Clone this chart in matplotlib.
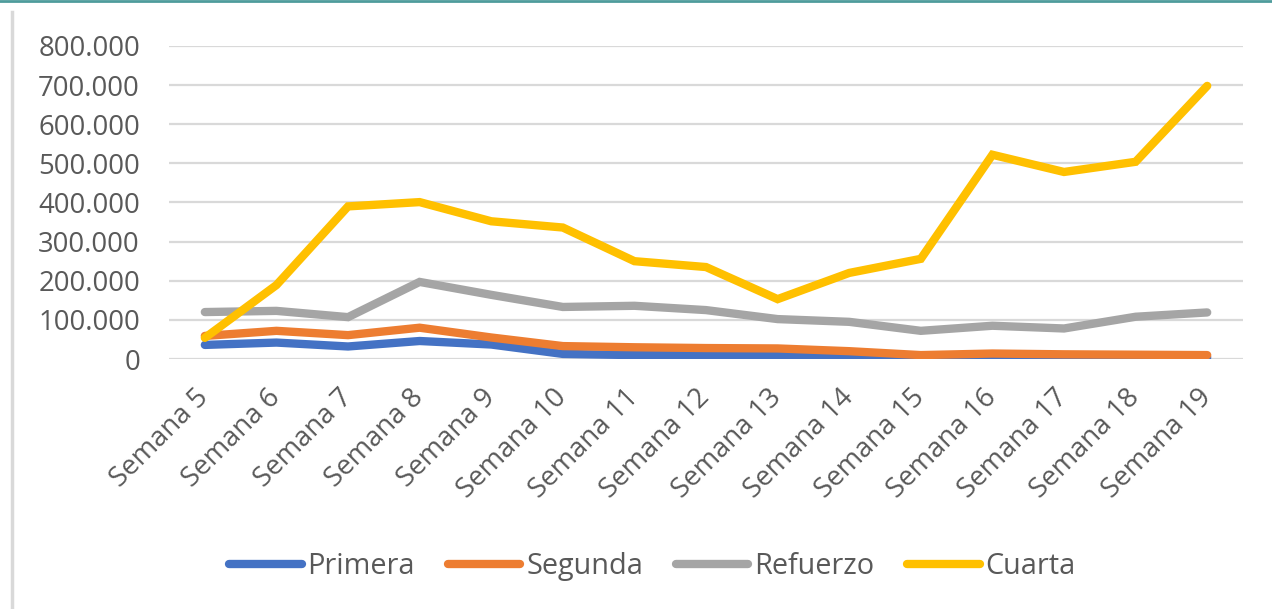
import matplotlib.pyplot as plt
from matplotlib.ticker import FuncFormatter
from matplotlib.lines import Line2D

semanas = ['Semana %d' % i for i in range(5, 20)]
primera = [36000, 42000, 32000, 46000, 37000, 13000, 10000, 10000, 10000, 6000, 3000, 3000, 4000, 4000, 4000]
segunda = [59000, 72000, 61000, 80000, 55000, 33000, 30000, 28000, 27000, 20000, 10000, 14000, 12000, 11000, 10000]
refuerzo = [120000, 123000, 107000, 197000, 164000, 133000, 136000, 125000, 102000, 95000, 72000, 85000, 78000, 108000, 119000]
cuarta = [54000, 189000, 390000, 401000, 352000, 336000, 250000, 235000, 153000, 220000, 256000, 522000, 478000, 504000, 698000]

plt.rcParams['font.family'] = ['Open Sans', 'DejaVu Sans']
txt = '#595959'

fig = plt.figure(figsize=(12.72, 6.09), dpi=100)
ax = fig.add_axes([0.1329, 0.4105, 0.8443, 0.514])

x = range(len(semanas))
series = [('Primera', primera, '#4472c4'),
          ('Segunda', segunda, '#ed7d31'),
          ('Refuerzo', refuerzo, '#a5a5a5'),
          ('Cuarta', cuarta, '#ffc000')]
for name, vals, col in series:
    ax.plot(x, vals, color=col, lw=6, solid_capstyle='round',
            solid_joinstyle='miter', label=name, zorder=3)

ax.set_xlim(-0.5, len(semanas) - 0.5)
ax.set_ylim(0, 800000)
ax.set_yticks(range(0, 800001, 100000))
ax.yaxis.set_major_formatter(FuncFormatter(lambda v, p: '{:,.0f}'.format(v).replace(',', '.')))
ax.grid(axis='y', color='#d9d9d9', lw=1.6, zorder=0)
ax.set_axisbelow(True)
for s in ax.spines.values():
    s.set_visible(False)

ax.set_xticks(list(x))
ax.set_xticklabels(semanas, rotation=45, ha='right', va='center',
                   rotation_mode='anchor', fontsize=19.8, color=txt)
ax.tick_params(axis='x', length=0, pad=25)
ax.tick_params(axis='y', length=0, pad=21, labelsize=19.8, labelcolor=txt)

handles = [Line2D([], [], color=c, lw=6, solid_capstyle='round') for _, _, c in series]
fig.legend(handles, [n for n, _, _ in series], loc='center', bbox_to_anchor=(0.513, 0.07),
           ncol=4, frameon=False, fontsize=20.8, labelcolor=txt,
           handlelength=2.5, handletextpad=0.2, columnspacing=1.15)

# frame lines of the original picture
fig.add_artist(Line2D([0, 1], [0.998, 0.998], color='#4e9c9c', lw=2, transform=fig.transFigure))
fig.add_artist(Line2D([12 / 1272, 12 / 1272], [0, 1 - 12 / 609], color='#d9d9d9', lw=2.5,
                      transform=fig.transFigure))

fig.savefig('out.png', dpi=100)
